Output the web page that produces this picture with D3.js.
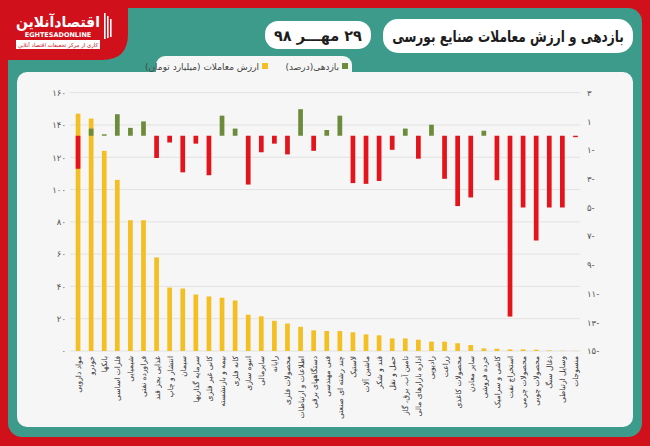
<!DOCTYPE html>
<html><head><meta charset="utf-8">
<script src="https://cdn.jsdelivr.net/npm/d3@7/dist/d3.min.js"></script>
<style>
html,body{margin:0;padding:0;background:#fff;}
svg{display:block;}
text{font-family:"DejaVu Sans",sans-serif;}
</style></head>
<body><svg id="c" width="650" height="446"></svg>
<script>
const categories = ["مواد دارویی","خودرو","بانکها","فلزات اساسی","شیمیایی","فراورده نفتی","غذایی بجز قند","انتشار و چاپ","سیمان","سرمایه گذاریها","کانی غیر فلزی","بیمه و بازنشسته","کانه فلزی","انبوه سازی","سایرمالی","رایانه","محصولات فلزی","اطلاعات و ارتباطات","دستگاههای برقی","فنی مهندسی","چند رشته ای صنعتی","لاستیک","ماشین آلات","قند و شکر","حمل و نقل","تامین آب، برق، گاز","اداره بازارهای مالی","رادیویی","زراعت","محصولات کاغذی","سایر معادن","خرده فروشی","کاشی و سرامیک","استخراج نفت","محصولات چرمی","محصولات چوبی","ذغال سنگ","وسایل ارتباطی","منسوجات"];
const tradeValue = [147,144,124,106,81,81,58,39.3,38.7,35,33.8,33,31.3,22.5,21.5,18.7,17,15,12.8,12.4,12.4,11.6,10.3,9.7,7.8,7.8,7,5.8,5.8,4.8,3.7,1.6,1.4,1.0,1.0,0.8,0.4,0.15,0.1];
const returns = [-2.3,0.5,0.1,1.5,0.55,1.0,-1.55,-0.47,-2.55,-0.55,-2.75,1.4,0.5,-3.4,-1.15,-0.55,-1.3,1.85,-1.05,0.4,1.4,-3.3,-3.35,-3.15,-0.98,0.5,-1.6,0.77,-3.0,-4.9,-4.3,0.35,-3.1,-12.6,-5.0,-7.3,-5.0,-5.0,-0.1];
const leftTicks = [0,20,40,60,80,100,120,140,160];
const rightTicks = [3,1,-1,-3,-5,-7,-9,-11,-13,-15];
const title = "بازدهی و ارزش معاملات صنایع بورسی";
const dateText = "۲۹ مهـــر ۹۸";
const legendItems = ["بازدهی(درصد)","ارزش معاملات (میلیارد تومان)"];

const C = {red:"#d0101b", teal:"#3d9b8c", panel:"#f6f6f6", yellow:"#f4bf22", loss:"#e3141c", gain:"#6d8c3b", grid:"#e2e2e2", axis:"#555"};
const fa = s => String(s).replace(/\d/g, d => "۰۱۲۳۴۵۶۷۸۹"[d]);
const faSigned = v => v < 0 ? fa(Math.abs(v)) + "-" : fa(v);

const svg = d3.select("#c");
function fitText(parent, str, cx, y, size, maxW, opts) {
  const t = parent.append("text").attr("x",0).attr("y",0).attr("text-anchor","middle")
    .attr("font-size",size).attr("font-weight",opts.bold?"bold":"normal").attr("fill",opts.fill)
    .attr("direction",opts.rtl?"rtl":"ltr").text(str);
  const w = t.node().getComputedTextLength();
  const s = Math.min(1, maxW / w);
  t.attr("transform",`translate(${cx},${y}) scale(${s},1)`);
  return t;
}
// frame
svg.append("rect").attr("width",650).attr("height",446).attr("fill",C.red);
svg.append("rect").attr("x",8).attr("y",8).attr("width",634).attr("height",429).attr("rx",14).attr("fill",C.teal);
svg.append("path").attr("d","M0,0H128V34Q128,60 102,60H0Z").attr("fill",C.red);
// logo
const lg = svg.append("g");
fitText(lg,"اقتصادآنلاین",58,27,15,84,{bold:true,fill:"#fff",rtl:true});
fitText(lg,"EGHTESADONLINE",58,37,6.5,80,{bold:true,fill:"#fff"});
lg.append("rect").attr("x",16).attr("y",40).attr("width",84).attr("height",9).attr("fill","#fff");
fitText(lg,"کاری از مرکز تحقیقات اقتصاد آنلاین",58,47,5.5,80,{fill:C.red,rtl:true});
[104,107,110].forEach((x,i)=>lg.append("rect").attr("x",x).attr("y",13+i*3).attr("width",1.6).attr("height",26-i*4).attr("fill","#fff"));
// title pills
svg.append("rect").attr("x",383).attr("y",19).attr("width",250).attr("height",34).attr("rx",15).attr("fill","#fff");
fitText(svg,title,508,42,16,232,{bold:true,fill:"#1d1d1d",rtl:true});
svg.append("rect").attr("x",265).attr("y",21).attr("width",106).attr("height",28).attr("rx",13).attr("fill","#fff");
fitText(svg,dateText,318,41,15,88,{bold:true,fill:"#1d1d1d",rtl:true});
// panel + legend tab
svg.append("rect").attr("x",17).attr("y",72).attr("width",616).attr("height",355).attr("rx",10).attr("fill",C.panel);
svg.append("rect").attr("x",156).attr("y",56).attr("width",196).attr("height",30).attr("rx",9).attr("fill",C.panel);
const legendColors = [C.gain, C.yellow];
const legendX = [349, 269];
legendItems.forEach((t,i)=>{
  svg.append("rect").attr("x",legendX[i]-7).attr("y",63).attr("width",6).attr("height",6).attr("fill",legendColors[i]);
  svg.append("text").attr("x",legendX[i]-10).attr("y",69.5).attr("direction","rtl").attr("text-anchor","start").attr("font-size",9).attr("fill","#444").text(t);
});

// scales
const x = d3.scaleBand().domain(categories).range([71.5,582]).padding(0);
const yL = d3.scaleLinear().domain([0,160]).range([351,92.7]);
const yR = d3.scaleLinear().domain([-15,3]).range([351,92.7]);
const bw = x.step()*0.36;
const cx = c => x(c) + x.bandwidth()/2;

// grid
svg.append("g").selectAll("line").data(leftTicks).join("line")
  .attr("x1",70).attr("x2",580).attr("y1",d=>yL(d)).attr("y2",d=>yL(d))
  .attr("stroke",C.grid).attr("stroke-width",1);

// axes
const axL = svg.append("g").attr("transform","translate(68,0)")
  .call(d3.axisLeft(yL).tickValues(leftTicks).tickSize(0).tickPadding(2).tickFormat(fa));
const axR = svg.append("g").attr("transform","translate(585,0)")
  .call(d3.axisRight(yR).tickValues(rightTicks).tickSize(0).tickPadding(2).tickFormat(faSigned));
[axL,axR].forEach(a=>{a.select(".domain").remove(); a.selectAll("text").attr("font-size",8.5).attr("fill",C.axis).attr("font-family","DejaVu Sans");});

// bars
svg.append("g").selectAll("rect").data(categories).join("rect")
  .attr("x",c=>cx(c)-bw/2).attr("width",bw)
  .attr("y",(c,i)=>yL(tradeValue[i])).attr("height",(c,i)=>yL(0)-yL(tradeValue[i]))
  .attr("fill",C.yellow);
svg.append("g").selectAll("rect").data(categories).join("rect")
  .attr("x",c=>cx(c)-bw/2).attr("width",bw)
  .attr("y",(c,i)=>yR(Math.max(0,returns[i]))).attr("height",(c,i)=>Math.abs(yR(returns[i])-yR(0)))
  .attr("fill",(c,i)=>returns[i]>=0?C.gain:C.loss);

// category labels
svg.append("g").selectAll("text").data(categories).join("text")
  .attr("transform",c=>`translate(${cx(c)+3},356) rotate(-90)`)
  .attr("direction","rtl").attr("text-anchor","start")
  .attr("font-size",7.5).attr("fill","#333").text(c=>c);
</script></body></html>
